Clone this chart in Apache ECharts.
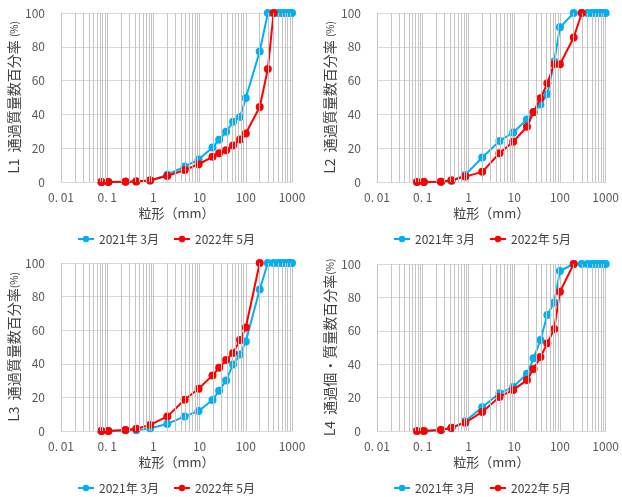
<!DOCTYPE html>
<html>
<head>
<meta charset="utf-8">
<script src="https://cdn.jsdelivr.net/npm/echarts@6/dist/echarts.min.js"></script>
<style>html,body{margin:0;padding:0;background:#fff;}#c{width:622px;height:497px;}</style>
</head>
<body>
<div id="c"></div>
<script>
// Sieve sizes (mm)
const sizes = [0.075, 0.106, 0.25, 0.425, 0.85, 2, 4.75, 9.5, 19, 26.5, 37.5, 53, 75, 100, 200, 300, 400, 500, 600, 700, 800, 900, 1000];

// Passing percentage by mass (%)
const L1_2021 = [0, 0, 0.3, 0.4, 0.8, 4.3, 9.1, 13.3, 20.4, 25, 29.7, 35.6, 38.4, 49.7, 77.2, 100, 100, 100, 100, 100, 100, 100, 100];
const L1_2022 = [0, 0, 0.1, 0.3, 1, 3.6, 7.1, 10.5, 14.9, 17, 18.8, 21.6, 25.1, 28.7, 44.4, 66.9, 100];
const L2_2021 = [0, 0, 0.1, 0.6, 4.2, 14.5, 24.2, 29.3, 37, 41.2, 45.9, 52, 71.3, 91.5, 100, 100, 100, 100, 100, 100, 100, 100, 100];
const L2_2022 = [0, 0, 0.2, 1, 3.2, 6, 17, 23.8, 32.7, 41.4, 49.5, 58.4, 69.7, 69.7, 85.5, 100];
const L3_2021 = [0, 0, 0.4, 0.5, 1.6, 4.2, 8.7, 11.9, 18.4, 24, 30.1, 39.6, 45.5, 53.3, 84.2, 100, 100, 100, 100, 100, 100, 100, 100];
const L3_2022 = [0, 0, 0.6, 1.4, 3.6, 8.7, 18.6, 25.1, 33.1, 37.6, 42.2, 46.5, 54.1, 61.6, 100];
const L4_2021 = [0, 0, 0.6, 1.6, 5.8, 14.2, 22.6, 26.3, 34.3, 43.5, 54.5, 69.5, 77, 95.8, 100, 100, 100, 100, 100, 100, 100, 100, 100];
const L4_2022 = [0, 0, 0.6, 2, 5, 11.4, 20.4, 24.6, 30.5, 37.1, 44.3, 52.5, 61.1, 83.4, 100];

const seriesNames = ['2021年 3月', '2022年 5月'];
const yTitles = ['L1  通過質量数百分率 ', 'L2  通過質量数百分率 ', 'L3  通過質量数百分率', 'L4  通過個・質量数百分率'];
const xTitle = '粒形（mm）';
const yTicks = { min: 0, max: 100, interval: 20 };
const xRange = { min: 0.01, max: 1000 };

const panels = [[L1_2021, L1_2022], [L2_2021, L2_2022], [L3_2021, L3_2022], [L4_2021, L4_2022]];

// minor grid values (2..9 in each decade)
const minors = [];
for (let d = -2; d <= 2; d++) for (let m = 2; m <= 9; m++) minors.push(+(m * Math.pow(10, d)).toPrecision(3));

const FONT = '"Noto Sans CJK JP", "Noto Sans", sans-serif';
const layout = [
  { left: 61, top: 13, width: 231, height: 169, legendLeft: 72, legendTop: 228 },
  { left: 377, top: 13, width: 232, height: 169, legendLeft: 388, legendTop: 228 },
  { left: 61, top: 263, width: 231, height: 168, legendLeft: 72, legendTop: 477 },
  { left: 377, top: 264, width: 232, height: 167, legendLeft: 388, legendTop: 477 }
];
const colors = ['#00B0F0', '#FF0000'];

const option = {
  animation: false,
  textStyle: { fontFamily: FONT },
  grid: [], xAxis: [], yAxis: [], series: [], legend: []
};

layout.forEach((g, i) => {
  option.grid.push({ left: g.left, top: g.top, width: g.width, height: g.height, containLabel: false });
  option.xAxis.push({
    type: 'log', logBase: 10, gridIndex: i, min: xRange.min, max: xRange.max,
    name: xTitle, nameLocation: 'middle', nameGap: 25,
    nameTextStyle: { color: '#404040', fontSize: 13, fontFamily: FONT },
    axisLine: { show: true, lineStyle: { color: '#d9d9d9' } },
    axisTick: { show: false },
    axisLabel: { color: '#595959', fontSize: 12, margin: 9, fontFamily: FONT,
      formatter: v => String(+v.toPrecision(3)).replace('.', '. ') },
    splitLine: { show: true, lineStyle: { color: '#c4c4c4', width: 1 } }
  });
  option.yAxis.push({
    type: 'value', gridIndex: i, min: yTicks.min, max: yTicks.max, interval: yTicks.interval,
    name: yTitles[i] + '{s|(%)}', nameLocation: 'middle', nameRotate: 90, nameGap: 39,
    nameTextStyle: { color: '#404040', fontSize: 14, fontFamily: FONT,
      rich: { s: { fontSize: 10, color: '#404040', fontFamily: FONT } } },
    axisLine: { show: false }, axisTick: { show: false },
    axisLabel: { color: '#595959', fontSize: 12, margin: 16, fontFamily: FONT },
    splitLine: { show: true, lineStyle: { color: '#d9d9d9', width: 1 } }
  });
  option.series.push({
    type: 'line', xAxisIndex: i, yAxisIndex: i, data: [], z: 1, silent: true,
    markLine: {
      silent: true, symbol: ['none', 'none'], label: { show: false }, animation: false,
      lineStyle: { color: '#c4c4c4', width: 1, type: 'solid' },
      emphasis: { disabled: true },
      data: minors.map(v => ({ xAxis: v }))
    }
  });
  panels[i].forEach((vals, k) => {
    option.series.push({
      name: seriesNames[k], type: 'line', xAxisIndex: i, yAxisIndex: i, z: 3 + k,
      symbol: 'circle', symbolSize: 8, color: colors[k],
      lineStyle: { width: 2, color: colors[k] },
      itemStyle: { color: colors[k] },
      data: vals.map((v, j) => [sizes[j], v])
    });
  });
  option.legend.push({
    data: seriesNames, left: g.legendLeft, top: g.legendTop,
    itemWidth: 16, itemHeight: 8, itemGap: 14, selectedMode: false,
    textStyle: { color: '#404040', fontSize: 12, fontFamily: FONT }
  });
});

const chart = echarts.init(document.getElementById('c'), null, { renderer: 'canvas' });
chart.setOption(option);
</script>
</body>
</html>
